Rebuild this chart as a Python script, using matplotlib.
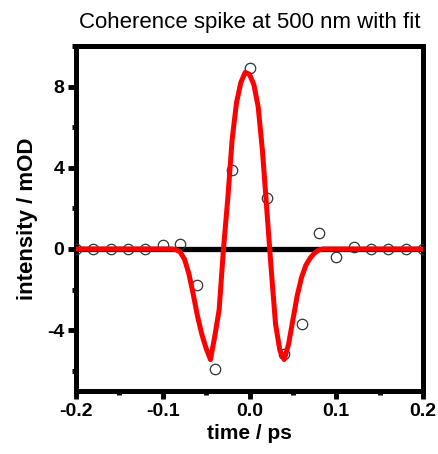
import numpy as np
import matplotlib.pyplot as plt
from matplotlib.ticker import MultipleLocator

plt.rcParams['font.family'] = ['Liberation Sans', 'DejaVu Sans']

# measured points (open circles)
t_data = [-0.20, -0.18, -0.16, -0.14, -0.12, -0.10, -0.08, -0.06, -0.04, -0.02, 0.00,
          0.02, 0.04, 0.06, 0.08, 0.10, 0.12, 0.14, 0.16, 0.18, 0.20]
i_data = [0.0, 0.0, 0.0, 0.0, 0.0, 0.2, 0.25, -1.8, -5.9, 3.9, 8.9,
          2.5, -5.2, -3.7, 0.8, -0.4, 0.1, 0.0, 0.0, 0.0, 0.0]

# fit curve
t_fit = [-0.20, -0.15, -0.10, -0.09, -0.085, -0.08, -0.075, -0.07, -0.065, -0.06, -0.055,
         -0.05, -0.045, -0.04, -0.035, -0.03, -0.025, -0.02, -0.015, -0.01, -0.005,
         0.0, 0.005, 0.01, 0.015, 0.02, 0.025, 0.03, 0.035, 0.04, 0.045, 0.05, 0.055,
         0.06, 0.065, 0.07, 0.075, 0.08, 0.085, 0.09, 0.10, 0.15, 0.20]
i_fit = [0.0, 0.0, 0.0, 0.0, -0.03, -0.15, -0.5, -1.2, -2.2, -3.3, -4.2,
         -4.9, -5.45, -4.3, -3.0, 0.0, 2.5, 5.4, 7.2, 8.2, 8.7,
         8.6, 8.1, 7.0, 4.8, 1.9, -1.0, -3.7, -5.0, -5.45, -4.7, -3.5, -2.3,
         -1.4, -0.8, -0.45, -0.2, -0.05, 0.0, 0.0, 0.0, 0.0, 0.0]

fig = plt.figure(figsize=(4.38, 4.54), dpi=100)
ax = fig.add_axes([0.1735, 0.1388, 0.7923, 0.7599])

ax.axhline(0, color='black', lw=3.8, zorder=2)
ax.plot(t_data, i_data, 'o', ms=7.5, mfc='none', mec='#333333', mew=0.9, zorder=3)
ax.plot(t_fit, i_fit, color='red', lw=3.6, solid_joinstyle='round', zorder=4)

ax.set_xlim(-0.2, 0.2)
ax.set_ylim(-7, 10)
ax.xaxis.set_major_locator(MultipleLocator(0.1))
ax.xaxis.set_minor_locator(MultipleLocator(0.05))
ax.yaxis.set_major_locator(MultipleLocator(4))
ax.yaxis.set_minor_locator(MultipleLocator(2))
ax.xaxis.set_major_formatter(plt.FuncFormatter(lambda v, p: f'{v:.1f}'))
ax.yaxis.set_major_formatter(plt.FuncFormatter(lambda v, p: f'{v:.0f}'))

for s in ax.spines.values():
    s.set_linewidth(3.6)
ax.tick_params(which='major', direction='out', length=5.5, width=3.5, labelsize=14, pad=3)
ax.tick_params(which='minor', direction='out', length=3, width=3.5)
for lbl in ax.get_xticklabels() + ax.get_yticklabels():
    lbl.set_fontweight('bold')

ax.set_xlabel('time / ps', fontsize=15, fontweight='bold', labelpad=3)
ax.set_ylabel('intensity / mOD', fontsize=16, fontweight='bold', labelpad=6)
ax.set_title('Coherence spike at 500 nm with fit', fontsize=16, pad=13)

fig.savefig('out.png', dpi=100)
